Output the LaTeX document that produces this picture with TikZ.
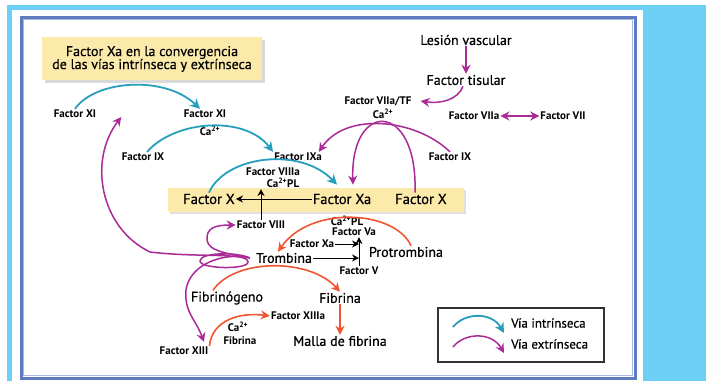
\documentclass[tikz,border=0pt]{standalone}
\usepackage{fontspec}
\setmainfont{PT Sans}
\newfontfamily\medfont{PT Sans}[FakeBold=0.5]
\usetikzlibrary{arrows.meta}
\definecolor{skyblue}{RGB}{108,207,244}
\definecolor{frameblue}{RGB}{96,122,192}
\definecolor{framelight}{RGB}{170,185,225}
\definecolor{baryellow}{RGB}{252,234,170}
\definecolor{intrinseca}{RGB}{38,158,188}
\definecolor{extrinseca}{RGB}{170,42,150}
\definecolor{fibrin}{RGB}{240,85,50}
\tikzset{
  lbl/.style={font=\bfseries\fontsize{11}{12}\selectfont, inner sep=1pt},
  big/.style={font=\medfont\fontsize{14}{15}\selectfont, inner sep=1pt},
  bar/.style={font=\medfont\fontsize{14.5}{16}\selectfont, inner sep=1pt},
  intr/.style={intrinseca, line width=1.8pt, -{Stealth[length=10pt,width=10pt]}},
  extr/.style={extrinseca, line width=1.5pt, -{Stealth[length=9pt,width=9pt]}},
  coag/.style={fibrin, line width=1.6pt, -{Stealth[length=9pt,width=9pt]}},
  blk/.style={black, line width=1pt, -{Stealth[length=7pt,width=7pt]}},
}
\begin{document}
\begin{tikzpicture}[x=1pt,y=-1pt]
        \useasboundingbox (0,0) rectangle (706,381);
        % frame
        \fill[white] (0,0) rectangle (706,381);
        \fill[skyblue] (7,5) rectangle (706,381);
        \fill[white] (12,10) rectangle (643,381);
        \draw[frameblue, line width=3pt] (21,17) rectangle (635,378);
        \draw[framelight, line width=1pt] (23.5,19.5) rectangle (632.5,375.5);

        % title
        \fill[black!15] (45,40) rectangle (265,83);
        \fill[baryellow] (42,37) rectangle (262,80);
        \node[big, align=center] (titulo) at (152,59) {Factor Xa en la convergencia\\[-2pt]de las vías intrínseca y extrínseca};

        % yellow bar
        \fill[black!12] (170,190) rectangle (466,214);
        \fill[baryellow] (168,188) rectangle (464,212);

        % extrinsic start
        \node[big] (lesion) at (466,40) {Lesión vascular};
        \node[big] (tisular) at (466,80) {Factor tisular};
        \node[lbl] (viiatf) at (378,101) {Factor VIIa/TF};
        \node[lbl] (ca1) at (383,114) {Ca\textsuperscript{2+}};
        \node[lbl] (viia) at (474,116) {Factor VIIa};
        \node[lbl] (vii) at (563,116) {Factor VII};
        \node[lbl] (ix2) at (450,157) {Factor IX};

        % intrinsic start
        \node[lbl] (xi1) at (75,114) {Factor XI};
        \node[lbl] (xi2) at (205,114) {Factor XI};
        \node[lbl] (ca2) at (210,131) {Ca\textsuperscript{2+}};
        \node[lbl] (ix1) at (143,157) {Factor IX};
        \node[lbl] (ixa) at (298,157) {Factor IXa};
        \node[lbl] (viiia) at (273,172) {Factor VIIIa};
        \node[lbl] (capl1) at (283,183) {Ca\textsuperscript{2+}PL};

        % bar
        \node[bar] (x1) at (209,199) {Factor X};
        \node[bar] (xa) at (342,199) {Factor Xa};
        \node[bar] (x2) at (421,199) {Factor X};
        \node[lbl] (viii) at (261,225) {Factor VIII};

        % thrombin
        \node[lbl] (capl2) at (347,221) {Ca\textsuperscript{2+}PL};
        \node[lbl] (va) at (354,232) {Factor Va};
        \node[lbl] (xa2) at (312,244) {Factor Xa};
        \node[big] (tromb) at (284,258) {Trombina};
        \node[big] (protromb) at (406,252) {Protrombina};
        \node[lbl] (v) at (359,271) {Factor V};

        % fibrin
        \node[big] (fibrinog) at (227,298) {Fibrinógeno};
        \node[big] (fibrina) at (340,298) {Fibrina};
        \node[lbl] (xiiia) at (298,316) {Factor XIIIa};
        \node[lbl] (ca3) at (238,327) {Ca\textsuperscript{2+}};
        \node[lbl] (fibrina2) at (240,341) {Fibrina};
        \node[big] (malla) at (340,341) {Malla de fibrina};
        \node[lbl] (xiii) at (184,351) {Factor XIII};

        % intrinsic arrows
        \draw[intr] (xi1.north) .. controls (95,80) and (165,75) .. ([xshift=-5pt]xi2.north);
        \draw[intr] ([xshift=4pt]ix1.north) .. controls (175,120) and (245,115) .. (ixa.north west);
        \draw[intr] (x1.north) .. controls (225,156) and (300,146) .. ([xshift=-5pt,yshift=8pt]xa.north);

        % extrinsic arrows
        \draw[extr] (lesion.south) -- (tisular.north);
        \draw[extr] ([xshift=-3pt]tisular.south) .. controls (458,100) and (440,104) .. ([xshift=8pt]viiatf.east);
        \draw[extr, {Stealth[length=9pt,width=9pt]}-{Stealth[length=9pt,width=9pt]}] (viia.east) -- (vii.west);
        \draw[extr] (ix2.north) .. controls (415,118) and (345,112) .. ([xshift=-4pt]ixa.north east);
        \draw[extr] ([xshift=-6pt]x2.north) .. controls (418,100) and (350,100) .. ([xshift=11pt,yshift=8pt]xa.north);

        % thrombin loops
        \draw[extr] ([xshift=-5pt]tromb.west) .. controls (238,252) and (200,252) .. (200,261)
            .. controls (200,269) and (248,270) .. (248,262)
            .. controls (248,252) and (200,258) .. (150,252)
            .. controls (100,228) and (88,160) .. ([shift={(24,3)}]xi1.east);
        \draw[extr] ([xshift=-5pt]tromb.west) .. controls (232,254) and (208,252) .. (207,240)
            .. controls (206,228) and (215,225) .. (viii.west);
        \draw[extr] ([xshift=-5pt]tromb.west) .. controls (228,252) and (190,262) .. (186,290)
            .. controls (184,312) and (196,320) .. ([shift={(20,-4)}]xiii.north);

        % black arrows
        \draw[blk] (xa.west) -- (x1.east);
        \draw[blk] (viii.north) -- (viii.north |- capl1.south west);
        \draw[blk] (xa2.east) -- (xa2.east -| v.north);
        \draw[blk] (tromb.east) -- (tromb.east -| v.north);
        \draw[blk] (v.north) -- (v.north |- va.south);

        % coagulation arrows
        \draw[coag] ([xshift=5pt]protromb.north) .. controls (395,210) and (310,205) .. ([xshift=-6pt]tromb.north);
        \draw[coag] ([xshift=-14pt]fibrinog.north) .. controls (235,258) and (310,258) .. (fibrina.north);
        \draw[coag] (fibrina.south) -- (malla.north);
        \draw[coag] (xiii.north east) .. controls (212,320) and (240,312) .. (xiiia.west);

        % legend
        \draw[black!80, line width=1.2pt] (438,308) rectangle (604,362);
        \coordinate (li0) at (453,327);
        \coordinate (li1) at (504,333);
        \coordinate (le0) at (453,347);
        \coordinate (le1) at (504,353);
        \draw[intr] (li0) .. controls (465,312) and (492,312) .. (li1);
        \draw[extr] (le0) .. controls (465,332) and (492,332) .. (le1);
        \node[font=\medfont\fontsize{13}{14}\selectfont, anchor=west, inner sep=1pt] (vint) at (510,323) {Vía intrínseca};
        \node[font=\medfont\fontsize{13}{14}\selectfont, anchor=west, inner sep=1pt] (vext) at (510,344) {Vía extrínseca};
\end{tikzpicture}
\end{document}
